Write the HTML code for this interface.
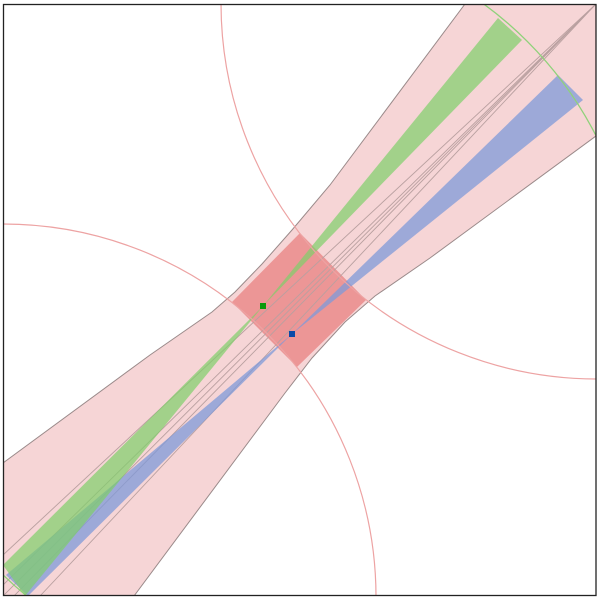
<!DOCTYPE html>
<html><head><meta charset="utf-8"><style>
html,body{margin:0;padding:0;background:#fff;width:600px;height:600px;overflow:hidden}
svg{display:block;position:absolute;left:0;top:0}
</style></head><body>
<svg id="chart" width="600" height="600" viewBox="0 0 600 600" xmlns="http://www.w3.org/2000/svg">
<defs>
<clipPath id="frameClip"><rect x="3" y="4" width="593" height="592"/></clipPath>
<clipPath id="coneClip"><polygon id="coneClipPoly" points="0,0"/></clipPath>
</defs>
<rect x="0" y="0" width="600" height="600" fill="#fff"/>
<g id="plot" clip-path="url(#frameClip)"></g>
<rect x="3.5" y="4.5" width="592.5" height="591" fill="none" stroke="#222" stroke-width="1.3"/>
</svg>
<script>
// points
const greenPoint = [263, 306];
const bluePoint = [292, 334];
const corner = [596, 4];
const circleRadius = 374;
const cornerCircles = [[597, 3, 376], [3, 597, 373]];
// cone outline
const coneOutline = [[3,463],[150,355],[212,312],[235,292],[262,264],[292,230],[330,185],[465,4],[600,4],[600,135],[596,136],[430,258],[375,296],[345,322],[312,358],[285,393],[134,596],[3,596]];
const waist = [[300,233],[366,300],[297,367],[232,302]];
// wedges: [upper end a, upper end b, lower end a, lower end b]
const greenWedge = [[498,18],[522,40],[3,565],[25,596]];
const blueWedge = [[558,75],[583,100],[6,575],[28,596]];
// rays from corner
const rayTargets = [[3,596],[14,596],[3,585],[40,596],[3,555]];

const NS = 'http://www.w3.org/2000/svg';
const g = document.getElementById('plot');
function mk(tag, attrs, parent){const e=document.createElementNS(NS,tag);for(const k in attrs)e.setAttribute(k,attrs[k]);(parent||g).appendChild(e);return e;}
const P = a => a.map(p=>p.join(',')).join(' ');
document.getElementById('coneClipPoly').setAttribute('points', P(coneOutline));

let e = mk('polygon',{points:P(coneOutline),fill:'#f6d5d6',stroke:'#9a8a8a','stroke-width':1});



e = mk('polygon',{points:P(waist),fill:'#ec9696'});



rayTargets.forEach(t=>{
  const r = mk('line',{x1:corner[0],y1:corner[1],x2:t[0],y2:t[1],stroke:'#b9a0a0','stroke-width':0.9});
  
  
});

function wedge(w, apex, color, name, op){
  const up = mk('polygon',{points:P([w[0],w[1],apex]),fill:color,'fill-opacity':op});
  
  
  const lo = mk('polygon',{points:P([w[2],w[3],apex]),fill:color,'fill-opacity':op});
  
  
}
wedge(blueWedge, bluePoint, '#7f9ad8', 'blue-wedge', 0.75);
wedge(greenWedge, greenPoint, '#7fcf6a', 'green-wedge', 0.7);

cornerCircles.forEach(c=>{
  const ci = mk('circle',{cx:c[0],cy:c[1],r:c[2],fill:'none',stroke:'#eda3a3','stroke-width':1.2});
  
  
});
const arcs = mk('g',{'clip-path':'url(#coneClip)'});
e = mk('circle',{cx:greenPoint[0],cy:greenPoint[1],r:circleRadius,fill:'none',stroke:'#8fd27a','stroke-width':1.3}, arcs);



e = mk('rect',{x:greenPoint[0]-3,y:greenPoint[1]-3,width:6,height:6,fill:'#0a9a0a'});


e = mk('rect',{x:bluePoint[0]-3,y:bluePoint[1]-3,width:6,height:6,fill:'#0a4aa8'});


</script>
</body></html>
